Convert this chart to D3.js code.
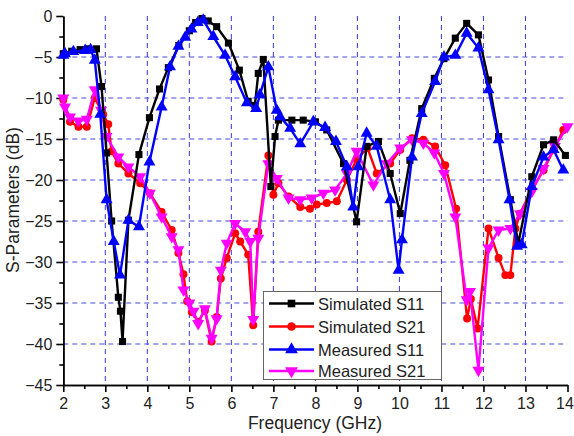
<!DOCTYPE html>
<html>
<head>
<meta charset="utf-8">
<script src="https://cdn.jsdelivr.net/npm/d3@7"></script>
<style>
body { margin: 0; background: #fff; }
svg { display: block; font-family: "Liberation Sans", Arial, sans-serif; }
</style>
</head>
<body>
<svg id="chart" width="574" height="436"></svg>
<script>
// values: [frequency GHz, dB]
var simS11 = [[2.0,-4.6],[2.2,-4.3],[2.4,-4.1],[2.6,-4.0],[2.79,-4.0],[2.91,-8.6],[3.03,-16.7],[3.15,-25.0],[3.31,-34.3],[3.36,-36.0],[3.41,-39.7],[3.55,-24.9],[3.80,-16.9],[4.05,-12.4],[4.29,-8.9],[4.5,-6.3],[4.75,-3.6],[5.0,-1.8],[5.15,-0.8],[5.3,-0.3],[5.45,-0.6],[5.65,-1.3],[5.93,-3.3],[6.19,-6.6],[6.40,-10.4],[6.56,-10.9],[6.64,-7.0],[6.76,-5.3],[6.94,-20.8],[7.04,-14.7],[7.12,-12.7],[7.44,-12.7],[7.71,-12.7],[8.0,-12.9],[8.27,-13.9],[8.67,-18.0],[8.98,-25.1],[9.22,-15.9],[9.50,-15.3],[9.78,-19.2],[10.02,-24.1],[10.25,-17.6],[10.53,-11.3],[10.83,-7.6],[11.06,-5.2],[11.33,-2.7],[11.60,-0.9],[11.88,-2.3],[12.12,-7.8],[12.36,-14.7],[12.64,-22.4],[12.83,-27.7],[13.15,-19.6],[13.43,-15.7],[13.67,-15.1],[13.95,-17.0]];

var simS21 = [[2.0,-10.2],[2.16,-12.9],[2.36,-13.5],[2.56,-13.5],[2.75,-10.0],[2.95,-12.0],[3.07,-13.2],[3.15,-16.5],[3.31,-18.0],[3.55,-19.2],[3.83,-20.4],[4.06,-21.6],[4.34,-23.9],[4.58,-26.1],[4.74,-28.9],[4.86,-31.5],[4.95,-34.8],[5.06,-36.1],[5.21,-37.3],[5.37,-35.9],[5.53,-39.7],[5.65,-36.7],[5.75,-32.0],[5.89,-29.5],[6.09,-26.5],[6.21,-27.5],[6.40,-29.1],[6.52,-37.7],[6.64,-26.3],[6.88,-17.0],[7.0,-21.8],[7.12,-20.4],[7.36,-22.0],[7.64,-23.3],[7.87,-23.5],[8.03,-23.0],[8.27,-22.8],[8.51,-22.6],[8.75,-20.0],[8.98,-17.5],[9.24,-16.1],[9.46,-19.2],[9.78,-18.0],[10.02,-16.3],[10.30,-14.9],[10.57,-15.1],[10.85,-15.9],[11.09,-18.2],[11.35,-23.5],[11.61,-36.9],[11.70,-34.5],[11.86,-38.1],[12.12,-25.9],[12.36,-29.5],[12.52,-31.6],[12.64,-31.6],[12.76,-25.9],[12.87,-24.1],[13.15,-21.2],[13.43,-18.8],[13.67,-16.3],[13.9,-13.9]];

var measS11 = [[2.0,-4.8],[2.04,-4.6],[2.24,-4.35],[2.52,-4.2],[2.65,-4.1],[2.75,-5.4],[2.88,-12.0],[3.03,-22.4],[3.2,-27.5],[3.35,-31.6],[3.55,-24.9],[3.80,-25.7],[4.05,-17.8],[4.34,-11.1],[4.54,-6.2],[4.74,-3.7],[4.9,-2.6],[5.05,-1.6],[5.2,-0.8],[5.33,-0.5],[5.57,-2.5],[5.85,-4.8],[6.09,-7.4],[6.37,-10.6],[6.59,-11.3],[6.68,-9.6],[6.88,-6.2],[7.08,-11.5],[7.16,-12.3],[7.40,-13.7],[7.64,-15.6],[7.95,-12.9],[8.23,-13.6],[8.49,-15.3],[8.75,-18.4],[8.90,-23.3],[9.02,-18.4],[9.22,-14.3],[9.46,-15.9],[9.78,-22.4],[9.98,-31.0],[10.06,-27.3],[10.30,-17.2],[10.53,-11.9],[10.85,-8.0],[11.06,-5.0],[11.33,-4.8],[11.60,-2.1],[11.88,-3.9],[12.12,-9.0],[12.36,-15.1],[12.62,-22.4],[12.80,-28.1],[12.91,-27.9],[13.15,-20.8],[13.43,-17.2],[13.67,-16.3],[13.90,-18.8]];

var measS21 = [[2.0,-10.0],[2.04,-11.1],[2.16,-12.3],[2.36,-12.8],[2.56,-12.6],[2.75,-9.0],[2.9,-11.5],[3.03,-14.7],[3.31,-17.2],[3.55,-18.4],[3.83,-19.6],[4.06,-21.6],[4.34,-24.5],[4.58,-26.9],[4.74,-28.5],[4.86,-33.4],[5.0,-35.0],[5.1,-36.0],[5.21,-37.5],[5.37,-35.7],[5.53,-39.3],[5.65,-36.9],[5.75,-31.0],[5.89,-27.7],[6.09,-25.3],[6.33,-26.3],[6.45,-27.5],[6.52,-37.0],[6.64,-27.1],[6.88,-18.0],[7.08,-19.8],[7.36,-22.2],[7.64,-22.4],[7.91,-22.2],[8.19,-21.6],[8.47,-21.2],[8.75,-19.2],[8.98,-16.5],[9.38,-20.6],[9.70,-18.0],[10.02,-16.1],[10.30,-15.1],[10.57,-15.5],[10.83,-16.7],[11.06,-19.2],[11.33,-24.5],[11.60,-34.6],[11.68,-33.6],[11.88,-43.2],[12.12,-28.3],[12.36,-26.1],[12.64,-25.9],[12.87,-24.1],[13.15,-21.4],[13.43,-18.6],[13.7,-15.9],[14.0,-13.5]];

var seriesNames = ["Simulated S11", "Simulated S21", "Measured S11", "Measured S21"];
var xTicks = [2,3,4,5,6,7,8,9,10,11,12,13,14];
var yTicks = [0,-5,-10,-15,-20,-25,-30,-35,-40,-45];

var svg = d3.select("#chart");

var x = d3.scaleLinear().domain([2, 14]).range([63.3, 567.5]);
var y = d3.scaleLinear().domain([-45, 0]).range([385, 16]);

// grid
var grid = svg.append("g")
	.attr("stroke", "#4a4ad6")
	.attr("stroke-width", 1.1)
	.attr("stroke-dasharray", "5,4");
grid.selectAll(".gx").data(xTicks.slice(1, -1)).enter().append("line")
	.attr("x1", function(d){ return x(d); }).attr("x2", function(d){ return x(d); })
	.attr("y1", y(0)).attr("y2", y(-45));
grid.selectAll(".gy").data(yTicks.slice(1, -1)).enter().append("line")
	.attr("y1", function(d){ return y(d); }).attr("y2", function(d){ return y(d); })
	.attr("x1", x(2)).attr("x2", x(14));

// axes
var minorX = d3.range(2.5, 14, 1);
var minorY = d3.range(-42.5, 0, 5);

svg.append("g").attr("transform", "translate(0," + y(-45) + ")")
	.call(d3.axisBottom(x).tickValues(minorX).tickSize(4).tickSizeOuter(0).tickFormat(""));
var xa = svg.append("g").attr("transform", "translate(0," + y(-45) + ")")
	.call(d3.axisBottom(x).tickValues(xTicks).tickSize(7).tickSizeOuter(0).tickPadding(6));
svg.append("g").attr("transform", "translate(" + x(2) + ",0)")
	.call(d3.axisLeft(y).tickValues(minorY).tickSize(4).tickSizeOuter(0).tickFormat(""));
var ya = svg.append("g").attr("transform", "translate(" + x(2) + ",0)")
	.call(d3.axisLeft(y).tickValues(yTicks).tickSize(7).tickSizeOuter(0).tickPadding(4));

svg.selectAll(".domain, .tick line").attr("stroke", "#000").attr("stroke-width", 1.6);
xa.selectAll("text").attr("font-size", 16).attr("fill", "#222").attr("font-family", "Liberation Sans, Arial")
	.attr("dx", function(d){ return d === 14 ? -3 : 0; });
ya.selectAll("text").attr("font-size", 16).attr("fill", "#222").attr("font-family", "Liberation Sans, Arial");

svg.append("text").attr("x", 315).attr("y", 429).attr("text-anchor", "middle")
	.attr("font-size", 17.5).attr("fill", "#222").text("Frequency (GHz)");
svg.append("text").attr("transform", "translate(19,200) rotate(-90)").attr("text-anchor", "middle")
	.attr("font-size", 17.5).attr("fill", "#222").text("S-Parameters (dB)");

// series
var colors = ["#000000", "#ff0000", "#0000ff", "#ff00ff"];
var symbols = [d3.symbolSquare, d3.symbolCircle, d3.symbolTriangle, d3.symbolTriangle];
var symSize = [50, 50, 62, 62];
var symRot = [0, 0, 0, 180];
var allData = [simS11, simS21, measS11, measS21];

var line = d3.line().x(function(d){ return x(d[0]); }).y(function(d){ return y(d[1]); });

var drawOrder = [1, 3, 0, 2];
drawOrder.forEach(function(i){
	var g = svg.append("g");
	g.append("path").datum(allData[i])
		.attr("d", line)
		.attr("fill", "none")
		.attr("stroke", colors[i])
		.attr("stroke-width", 2.4)
		.attr("stroke-linejoin", "round");
	g.selectAll("path.m").data(allData[i]).enter().append("path")
		.attr("class", "m")
		.attr("d", d3.symbol().type(symbols[i]).size(symSize[i]))
		.attr("transform", function(d){ return "translate(" + x(d[0]) + "," + y(d[1]) + ") rotate(" + symRot[i] + ")"; })
		.attr("fill", colors[i]);
});

// legend
var leg = svg.append("g");
leg.append("rect").attr("x", 263.5).attr("y", 291.5).attr("width", 178).attr("height", 88)
	.attr("fill", "#fff").attr("stroke", "#666").attr("stroke-width", 1);
var rowY = [303.5, 326.5, 349.5, 371];
seriesNames.forEach(function(name, i){
	leg.append("line").attr("x1", 269).attr("x2", 314).attr("y1", rowY[i]).attr("y2", rowY[i])
		.attr("stroke", colors[i]).attr("stroke-width", 2.4);
	leg.append("path")
		.attr("d", d3.symbol().type(symbols[i]).size(symSize[i] + 8))
		.attr("transform", "translate(291.5," + rowY[i] + ") rotate(" + symRot[i] + ")")
		.attr("fill", colors[i]);
	leg.append("text").attr("x", 318).attr("y", rowY[i] + 6)
		.attr("font-size", 16.5).attr("fill", "#222").text(name);
});
</script>
</body>
</html>
